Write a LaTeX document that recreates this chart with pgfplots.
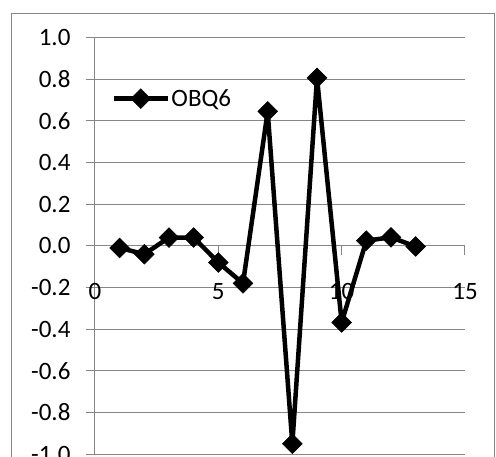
\documentclass[border=0pt]{standalone}
\usepackage{fontspec}
\setmainfont{Carlito}
\usepackage{pgfplots}
\pgfplotsset{compat=1.18}
\definecolor{gridgray}{RGB}{134,134,134}
\begin{document}
\begin{tikzpicture}
\path[use as bounding box, clip] (-95pt,-2pt) rectangle (401pt,454pt);
\begin{axis}[
  at={(0pt,0pt)}, anchor=south west,
  scale only axis, width=370pt, height=416.3pt,
  xmin=0, xmax=15, ymin=-1, ymax=1,
  axis x line=middle, axis y line=left,
  axis line style={draw=gridgray, line width=1pt, -},
  hide obscured x ticks=false, hide obscured y ticks=false,
  xtick={0,5,10,15}, ytick={-1,-0.8,-0.6,-0.4,-0.2,0,0.2,0.4,0.6,0.8,1},
  ymajorgrids, grid style={draw=gridgray, line width=1pt},
  tick style={draw=gridgray, line width=1pt},
  tick align=outside, major tick length=9pt,
  /pgf/number format/assume math mode=true,
  yticklabel style={/pgf/number format/.cd, fixed, fixed zerofill, precision=1, /tikz/.cd, xshift=-12pt},
  xticklabel style={/pgf/number format/.cd, fixed, precision=0, /tikz/.cd, yshift=-25pt},
  tick label style={font=\fontsize{25}{25}\selectfont, text=black},
  clip=false,
  legend style={draw=none, fill=none, at={(axis cs:0.66,0.707)}, anchor=west,
    inner sep=0pt, font=\fontsize{25}{25}\selectfont, nodes={inner sep=1.5pt}},
  legend image code/.code={\draw[mark repeat=2, mark phase=2, #1] plot coordinates {(0pt,0pt) (27pt,0pt) (54pt,0pt)};},
]
\addplot[black, line width=4.5pt, line join=round, mark=square*, mark size=7pt,
  mark options={rotate=45, solid, line width=0.5pt, fill=black, line join=miter}]
  coordinates {(1,-0.01) (2,-0.04) (3,0.04) (4,0.04) (5,-0.08) (6,-0.18) (7,0.646) (8,-0.951) (9,0.807) (10,-0.368) (11,0.025) (12,0.041) (13,-0.003)};
\addlegendentry{OBQ6}
\end{axis}
\draw[gridgray, line width=1pt] (-83pt,-20pt) rectangle (399pt,440pt);
\end{tikzpicture}
\end{document}
